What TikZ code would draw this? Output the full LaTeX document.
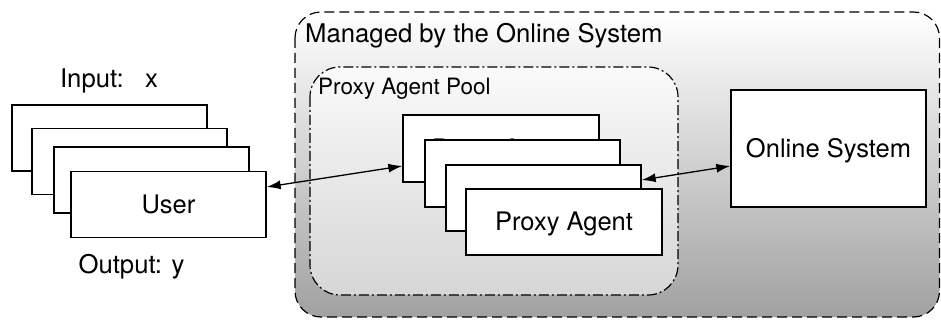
\documentclass[tikz,border=0pt]{standalone}
\usepackage{fontspec}
\setmainfont{TeX Gyre Heros}
\usetikzlibrary{arrows.meta}

\tikzset{
  card/.style={draw=black, fill=white, line width=1.3pt, minimum width=195pt,
    minimum height=66pt, inner sep=0pt, text height=17pt, text depth=0pt,
    font=\fontsize{25.5}{30}\selectfont},
  label/.style={inner sep=0pt, font=\fontsize{25.7}{30}\selectfont},
  smalllabel/.style={inner sep=0pt, font=\fontsize{22.5}{26}\selectfont},
  region/.style={line width=1.2pt, rounded corners=26pt,
    dash pattern=on 10pt off 5pt, top color=white, bottom color=black!37},
  pool/.style={line width=1.2pt, rounded corners=30pt,
    dash pattern=on 10pt off 3pt on 2pt off 3pt, top color=black!2, bottom color=black!16},
  link/.style={line width=1.3pt, {Latex[length=14pt,width=9pt]}-{Latex[length=14pt,width=9pt]}}
}

\begin{document}
\begin{tikzpicture}[x=1pt,y=-1pt]
\useasboundingbox (0,0) rectangle (941,320);

% area handled by the online system, and the agent pool inside it
\draw[region] (295,12) rectangle (939.5,317);
\draw[pool] (310,67) rectangle (678,295);
\node[label, anchor=base west] (managed) at (305,43) {Managed by the Online System};
\node[smalllabel, anchor=base west] (poollabel) at (318,95) {Proxy Agent Pool};

% stacked user cards
\node[card] (u1) at (109.5,138) {};
\node[card] (u2) at (129.5,161.5) {};
\node[card] (u3) at (151.5,180) {};
\node[card, text height=18pt] (u4) at (168.5,204.5) {User};
\node[label, anchor=base] (inp) at (109,88) {Input:\ \ \ x};
\node[label, anchor=base] (outp) at (131.5,273) {Output: y};

% stacked proxy agent cards (the back card's label is mostly covered)
\node[card, minimum width=196pt, minimum height=67pt, text height=18.6pt] (p1) at (501,148.5) {Proxy Agent};
\node[card, minimum width=195pt, minimum height=67pt] (p2) at (522.5,173.5) {};
\node[card, minimum width=195pt, minimum height=66pt] (p3) at (543.5,198) {};
\node[card, minimum width=196pt, minimum height=66pt] (p4) at (564,222) {Proxy Agent};

% online system
\node[card, minimum height=117pt, text height=18pt] (online) at (828.5,148.5) {Online System};

% links
\draw[link] ([yshift=17.5pt]u4.east) -- ([yshift=-17.5pt]p1.west);
\draw[link] ([yshift=18pt]p3.east) -- ([yshift=-17.5pt]online.west);
\end{tikzpicture}
\end{document}
